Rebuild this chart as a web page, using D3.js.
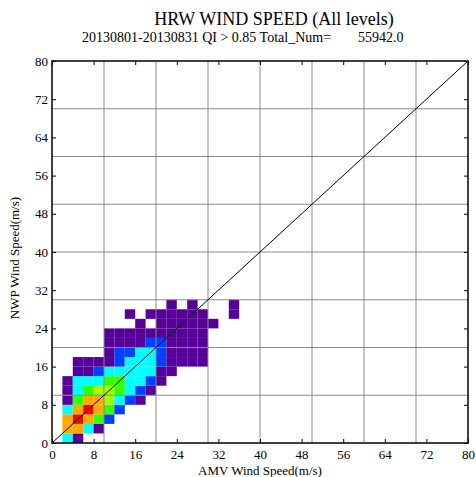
<!DOCTYPE html>
<html>
<head>
<meta charset="utf-8">
<script src="https://cdn.jsdelivr.net/npm/d3@7"></script>
<style>
  body { margin: 0; background: #fff; }
  svg text { font-family: "Liberation Serif", "Times New Roman", serif !important; fill: #000; }
</style>
</head>
<body>
<div id="chart"></div>
<script>
"use strict";

var width = 476;
var height = 477;
var margin = { top: 61, right: 8, bottom: 34, left: 52 };

// titles
var title = "HRW WIND SPEED (All levels)";
var subtitle = "20130801-20130831 QI > 0.85 Total_Num=";
var totalNum = "55942.0";
var xTitle = "AMV Wind Speed(m/s)";
var yTitle = "NWP Wind Speed(m/s)";

// axis
var axisMax = 80;
var tickValues = [0, 8, 16, 24, 32, 40, 48, 56, 64, 72, 80];
var gridValues = [10, 20, 30, 40, 50, 60, 70];

// 2 m/s bins, count level per cell (0 = empty), row 0 is NWP 0-2 m/s,
// each character is one AMV bin starting at 0-2 m/s
var binSize = 2;
var levelColors = ["#560099", "#0040ff", "#00ffff", "#33ff00", "#a0ff00", "#ffaa00", "#ff0000"];
var binRows = [
  "031",
  "06631",
  "067642",
  "0367642",
  "014665321",
  "0134554321",
  "01333443321",
  "001123333311",
  "001111233321111",
  "000001223321111",
  "000001111221111",
  "000001111111111",
  "0000000010111111",
  "000000010111111001",
  "000000000001010001"
];

var cells = [];
binRows.forEach(function (row, j) {
  row.split("").forEach(function (c, i) {
    var lv = +c;
    if (lv > 0) cells.push({ x: i * binSize, y: j * binSize, level: lv });
  });
});

var svg = d3.select("#chart").append("svg")
  .attr("width", width)
  .attr("height", height);

var x = d3.scaleLinear().domain([0, axisMax]).range([margin.left, width - margin.right]);
var y = d3.scaleLinear().domain([0, axisMax]).range([height - margin.bottom, margin.top]);

// cells
svg.append("g").attr("class", "cells")
  .selectAll("rect").data(cells).enter().append("rect")
  .attr("x", function (d) { return x(d.x); })
  .attr("y", function (d) { return y(d.y + binSize); })
  .attr("width", function (d) { return x(d.x + binSize) - x(d.x); })
  .attr("height", function (d) { return y(d.y) - y(d.y + binSize); })
  .attr("fill", function (d) { return levelColors[d.level - 1]; });

// grid
var grid = svg.append("g").attr("class", "grid").attr("stroke", "#8a8a8a").attr("stroke-width", 1);
grid.selectAll("line.v").data(gridValues).enter().append("line")
  .attr("class", "v")
  .attr("x1", function (d) { return x(d); }).attr("x2", function (d) { return x(d); })
  .attr("y1", y(0)).attr("y2", y(axisMax));
grid.selectAll("line.h").data(gridValues).enter().append("line")
  .attr("class", "h")
  .attr("y1", function (d) { return y(d); }).attr("y2", function (d) { return y(d); })
  .attr("x1", x(0)).attr("x2", x(axisMax));

// 1:1 line
svg.append("line")
  .attr("x1", x(0)).attr("y1", y(0))
  .attr("x2", x(axisMax)).attr("y2", y(axisMax))
  .attr("stroke", "#000").attr("stroke-width", 1);

// axes, ticks point inward
var xAxis = svg.append("g")
  .attr("transform", "translate(0," + y(0) + ")")
  .call(d3.axisBottom(x).tickValues(tickValues).tickSizeInner(-4).tickSizeOuter(0).tickPadding(7));
var yAxis = svg.append("g")
  .attr("transform", "translate(" + x(0) + ",0)")
  .call(d3.axisLeft(y).tickValues(tickValues).tickSizeInner(-4).tickSizeOuter(0).tickPadding(4));
var xTop = svg.append("g")
  .attr("transform", "translate(0," + y(axisMax) + ")")
  .call(d3.axisTop(x).tickValues(tickValues).tickSizeInner(-4).tickSizeOuter(0).tickFormat(""));
var yRight = svg.append("g")
  .attr("transform", "translate(" + x(axisMax) + ",0)")
  .call(d3.axisRight(y).tickValues(tickValues).tickSizeInner(-4).tickSizeOuter(0).tickFormat(""));

[xAxis, yAxis, xTop, yRight].forEach(function (a) {
  a.attr("font-family", "'Liberation Serif', serif").attr("font-size", 13);
  a.select(".domain").remove();
  a.selectAll("line").attr("stroke", "#000");
  a.selectAll("text").attr("fill", "#000");
});

// frame
svg.append("rect")
  .attr("x", x(0)).attr("y", y(axisMax))
  .attr("width", x(axisMax) - x(0)).attr("height", y(0) - y(axisMax))
  .attr("fill", "none").attr("stroke", "#111").attr("stroke-width", 1.6);

// titles
svg.append("text")
  .attr("x", 274).attr("y", 25)
  .attr("text-anchor", "middle")
  .style("font-size", "18px")
  .text(title);

var sub = svg.append("text")
  .attr("x", 82).attr("y", 42)
  .style("font-size", "14px");
sub.append("tspan").text(subtitle);
sub.append("tspan").attr("dx", 27).text(totalNum);

svg.append("text")
  .attr("x", (x(0) + x(axisMax)) / 2).attr("y", 475)
  .attr("text-anchor", "middle")
  .style("font-size", "13px")
  .text(xTitle);

svg.append("text")
  .attr("transform", "translate(19," + 258 + ") rotate(-90)")
  .attr("text-anchor", "middle")
  .style("font-size", "13px")
  .text(yTitle);
</script>
</body>
</html>
